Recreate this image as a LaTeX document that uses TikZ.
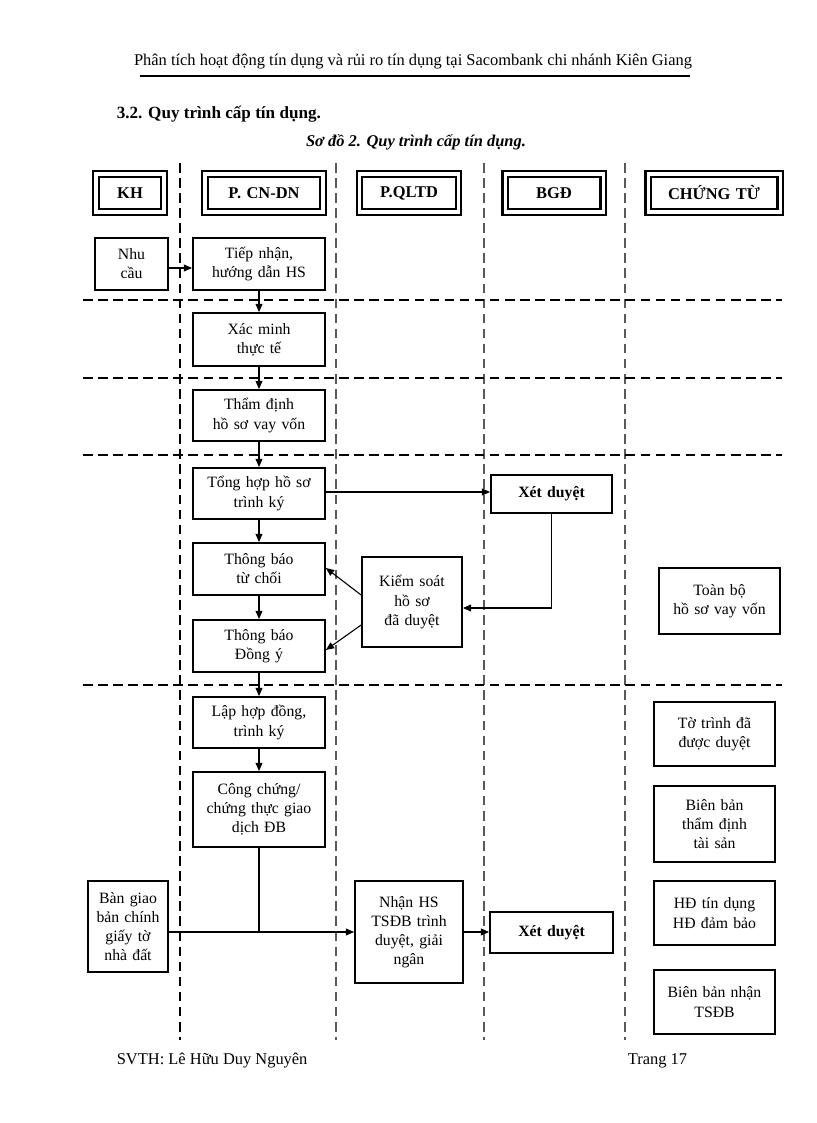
\documentclass[tikz,border=0pt]{standalone}
\usepackage{fontspec}
\setmainfont{Liberation Serif}
\usetikzlibrary{arrows.meta,positioning}
\begin{document}
\begin{tikzpicture}[x=0.73pt,y=-0.73pt,
  font=\fontsize{11.5}{14}\selectfont,
  box/.style={draw,line width=1.3pt,align=center,inner sep=0pt},
  hdr/.style={draw,line width=1.6pt,double,double distance=2.2pt,align=center,font=\fontsize{12}{14}\selectfont\bfseries,inner sep=0pt},
  arr/.style={-{Triangle[length=6pt,width=5pt]},line width=0.8pt},
  vlane/.style={dash pattern=on 7pt off 4pt,line width=0.9pt,gray!70!black},
  hlane/.style={dash pattern=on 7pt off 4pt,line width=1.1pt}]
\useasboundingbox (0,0) rectangle (816,1123);
% page header/footer
\node (title) at (413,62) {\fontsize{12}{14}\selectfont Phân tích hoạt động tín dụng và rủi ro tín dụng tại Sacombank chi nhánh Kiên Giang};
\draw[line width=2pt] (140,76) -- (690,76);
\node[anchor=west,font=\fontsize{12.5}{14}\selectfont\bfseries] (sec) at (112,114) {3.2. Quy trình cấp tín dụng.};
\node[font=\fontsize{12}{14}\selectfont\bfseries\itshape] (cap) at (416,142) {Sơ đồ 2. Quy trình cấp tín dụng.};
\node[anchor=west,font=\fontsize{12}{14}\selectfont] (ft1) at (112,1061) {SVTH: Lê Hữu Duy Nguyên};
\node[anchor=east,font=\fontsize{12}{14}\selectfont] (ft2) at (692,1061) {Trang 17};
% lanes
\draw[vlane,black,line width=1.1pt] (180,163) -- (180,1040);
\foreach \x in {336,484,625} \draw[vlane] (\x,163) -- (\x,1040);
\foreach \y in {300,378,455,685} \draw[hlane] (83,\y) -- (782,\y);
% headers
\node[hdr,minimum width=68pt*0.73/0.73*0.73,text width=66*0.73pt,minimum height=38*0.73pt] (kh) at (130,193) {KH};
\node[hdr,text width=118*0.73pt,minimum height=38*0.73pt] (cn) at (264,193) {P. CN-DN};
\node[hdr,text width=99*0.73pt,minimum height=38*0.73pt] (ql) at (409,193) {P.QLTD};
\node[hdr,text width=98*0.73pt,minimum height=38*0.73pt] (bgd) at (554,193) {BGĐ};
\node[hdr,text width=132*0.73pt,minimum height=38*0.73pt] (ct) at (714,193) {CHỨNG TỪ};
% nodes
\newcommand{\bx}[6]{\node[box,minimum width={(#3-#2)*0.73pt},minimum height={(#5-#4)*0.73pt},text width={(#3-#2-6)*0.73pt}] (#1) at ({(#2+#3)/2},{(#4+#5)/2}) {#6};}
\bx{nhu}{95}{168}{238}{290}{Nhu\\cầu}
\bx{tiep}{193}{325}{238}{290}{Tiếp nhận,\\hướng dẫn HS}
\bx{xac}{193}{325}{313}{366}{Xác minh\\thực tế}
\bx{tham}{193}{325}{390}{441}{Thẩm định\\hồ sơ vay vốn}
\bx{tong}{193}{325}{468}{519}{Tổng hợp hồ sơ\\trình ký}
\bx{tuchoi}{193}{325}{543}{595}{Thông báo\\từ chối}
\bx{dongy}{193}{325}{620}{672}{Thông báo\\Đồng ý}
\bx{xd1}{491}{612}{475}{513}{\bfseries Xét duyệt}
\bx{kiem}{362}{462}{557}{647}{Kiểm soát\\hồ sơ\\đã duyệt}
\bx{toan}{659}{780}{568}{634}{Toàn bộ\\hồ sơ vay vốn}
\bx{lap}{193}{325}{697}{748}{Lập hợp đồng,\\trình ký}
\bx{cong}{193}{325}{772}{847}{Công chứng/\\chứng thực giao\\dịch ĐB}
\bx{totrinh}{654}{775}{702}{766}{Tờ trình đã\\được duyệt}
\bx{bienban}{654}{775}{786}{862}{Biên bản\\thẩm định\\tài sản}
\bx{bangiao}{88}{168}{881}{972}{Bàn giao\\bản chính\\giấy tờ\\nhà đất}
\bx{nhan}{355}{463}{881}{983}{Nhận HS\\TSĐB trình\\duyệt, giải\\ngân}
\bx{xd2}{490}{613}{912}{953}{\bfseries Xét duyệt}
\bx{hd}{654}{775}{881}{945}{HĐ tín dụng\\HĐ đảm bảo}
\bx{bbn}{654}{775}{970}{1034}{Biên bản nhận\\TSĐB}
% connectors
\draw[arr] (nhu.east|-0,268) -- (tiep.west|-0,268);
\draw[arr] (tiep) -- (xac);
\draw[arr] (xac) -- (tham);
\draw[arr] (tham) -- (tong);
\draw[arr] (tong) -- (tuchoi);
\draw[arr] (tuchoi) -- (dongy);
\draw[arr] (dongy) -- (lap);
\draw[arr] (lap) -- (cong);
\draw[arr] (tong.east|-0,492) -- (xd1.west|-0,492);
\draw[arr] (xd1.south) |- (kiem.east|-0,608);
\draw[arr] (kiem.west|-0,595) -- (tuchoi.east|-0,568);
\draw[arr] (kiem.west|-0,625) -- (dongy.east|-0,650);
\coordinate (j) at (259,932);
\draw[line width=0.8pt] (cong.south) -- (j);
\draw[arr] (bangiao.east|-0,932) -- (nhan.west|-0,932);
\draw[arr] (nhan.east|-0,932) -- (xd2.west|-0,932);
\end{tikzpicture}
\end{document}
